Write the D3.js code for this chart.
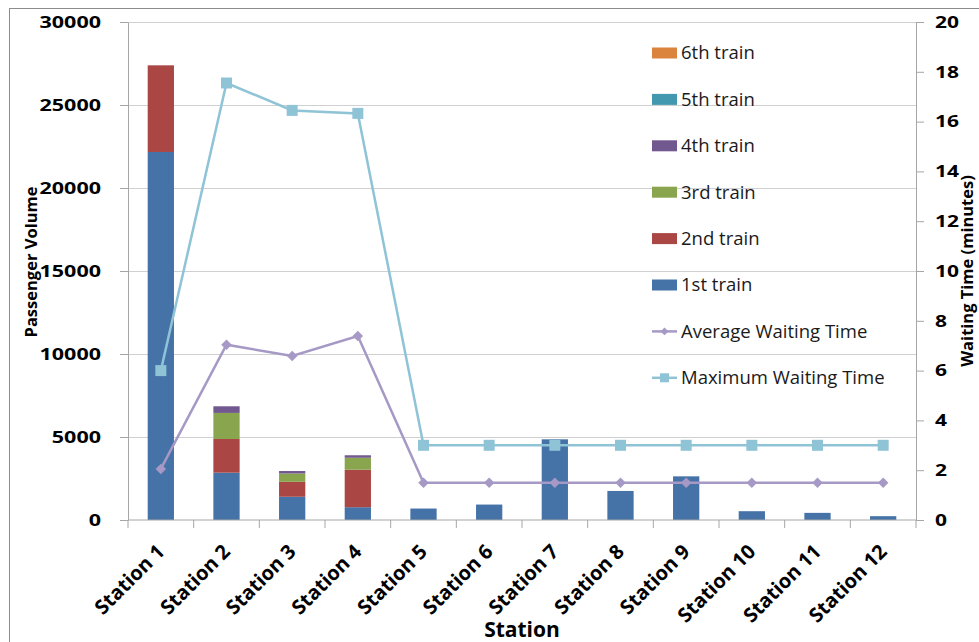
<!DOCTYPE html>
<html>
<head>
<meta charset="utf-8">
<script src="https://cdn.jsdelivr.net/npm/d3@7"></script>
<style>
  html, body { margin: 0; padding: 0; background: #fff; }
  svg { display: block; font-family: 'Open Sans', sans-serif; }
  .grid line { stroke: #d0d0d0; }
  .grid .domain { display: none; }
  .axis path, .axis line { stroke: #a6a6a6; }
  .axis text { font-family: 'Open Sans', sans-serif; font-weight: bold; fill: #000; }
</style>
</head>
<body>
<svg id="chart" width="979" height="642"></svg>
<script>
// Data
const stations = ['Station 1', 'Station 2', 'Station 3', 'Station 4', 'Station 5', 'Station 6',
  'Station 7', 'Station 8', 'Station 9', 'Station 10', 'Station 11', 'Station 12']
const train1 = [22170, 2850, 1400, 770, 690, 930, 4860, 1750, 2630, 530, 430, 230]
const train2 = [5220, 2030, 900, 2260, 0, 0, 0, 0, 0, 0, 0, 0]
const train3 = [0, 1570, 500, 720, 0, 0, 0, 0, 0, 0, 0, 0]
const train4 = [0, 400, 150, 150, 0, 0, 0, 0, 0, 0, 0, 0]
const train5 = [0, 0, 0, 0, 0, 0, 0, 0, 0, 0, 0, 0]
const train6 = [0, 0, 0, 0, 0, 0, 0, 0, 0, 0, 0, 0]
const avgWait = [2.05, 7.04, 6.59, 7.39, 1.5, 1.5, 1.5, 1.5, 1.5, 1.5, 1.5, 1.5]
const maxWait = [6.0, 17.55, 16.45, 16.33, 3, 3, 3, 3, 3, 3, 3, 3]
const volumeTicks = [0, 5000, 10000, 15000, 20000, 25000, 30000]
const waitTicks = [0, 2, 4, 6, 8, 10, 12, 14, 16, 18, 20]

const trainKeys = ['1st train', '2nd train', '3rd train', '4th train', '5th train', '6th train']
const trainColors = ['#4572a7', '#aa4643', '#89a54e', '#71588f', '#4198af', '#db843d']
const avgColor = '#a699c5'
const maxColor = '#8fc3d6'

const svg = d3.select('#chart')
const margin = { top: 22, right: 63, bottom: 122, left: 128 }
const width = 979, height = 642
const innerW = width - margin.left - margin.right
const innerH = height - margin.top - margin.bottom

// outer frame
svg.append('rect')
  .attr('x', 9.5).attr('y', 8.5)
  .attr('width', 1000).attr('height', 700)
  .attr('fill', 'none').attr('stroke', '#8c8c8c')

const rows = stations.map((s, i) => ({
  station: s,
  '1st train': train1[i], '2nd train': train2[i], '3rd train': train3[i],
  '4th train': train4[i], '5th train': train5[i], '6th train': train6[i],
}))
const series = d3.stack().keys(trainKeys)(rows)

const x = d3.scaleBand().domain(stations).range([0, innerW]).paddingInner(0.6).paddingOuter(0.3)
const step = innerW / stations.length
const y = d3.scaleLinear().domain([0, 30000]).range([innerH, 0])
const y2 = d3.scaleLinear().domain([0, 20]).range([innerH, 0])
const cx = (s) => x(s) + x.bandwidth() / 2

const g = svg.append('g').attr('transform', `translate(${margin.left},${margin.top})`)

// grid
g.append('g').attr('class', 'grid')
  .call(d3.axisLeft(y).tickValues(volumeTicks.slice(1)).tickSize(-innerW).tickFormat(''))

// bars
g.selectAll('.series')
  .data(series)
  .join('g')
  .attr('fill', (d, i) => trainColors[i])
  .selectAll('rect')
  .data((d) => d.map((v, i) => ({ v, s: stations[i] })))
  .join('rect')
  .attr('x', (d) => x(d.s))
  .attr('y', (d) => y(d.v[1]))
  .attr('width', x.bandwidth())
  .attr('height', (d) => y(d.v[0]) - y(d.v[1]))

// x axis with ticks at category boundaries
const xAxis = g.append('g').attr('class', 'axis')
  .attr('transform', `translate(0,${innerH})`)
xAxis.append('line').attr('x1', 0).attr('x2', innerW).attr('stroke', '#a6a6a6')
xAxis.selectAll('.tk')
  .data(d3.range(stations.length + 1))
  .join('line')
  .attr('x1', (i) => i * step).attr('x2', (i) => i * step)
  .attr('y1', 0).attr('y2', 8)
xAxis.selectAll('.lbl')
  .data(stations)
  .join('text')
  .attr('transform', (s) => `translate(${cx(s)},${28}) rotate(-45)`)
  .attr('text-anchor', 'end')
  .attr('dy', '0.35em')
  .style('font-size', '20px')
  .text((s) => s)

// left axis
const yAxis = g.append('g').attr('class', 'axis')
  .call(d3.axisLeft(y).tickValues(volumeTicks).tickFormat(d3.format('d'))
    .tickSize(8).tickPadding(19).tickSizeOuter(0))
yAxis.selectAll('text')
  .style('font-size', '16.5px').style('font-weight', 'bold')
  .attr('textLength', (d) => String(d).length * 12.3)
  .attr('lengthAdjust', 'spacingAndGlyphs')

// right axis
const yAxis2 = g.append('g').attr('class', 'axis')
  .attr('transform', `translate(${innerW},0)`)
  .call(d3.axisRight(y2).tickValues(waitTicks).tickSize(8).tickPadding(11).tickSizeOuter(0))
yAxis2.selectAll('text')
  .style('font-size', '16.5px').style('font-weight', 'bold')
  .attr('textLength', (d) => String(d).length * 12)
  .attr('lengthAdjust', 'spacingAndGlyphs')

// lines
const line = (vals) => d3.line().x((d, i) => cx(stations[i])).y((d) => y2(d))(vals)
g.append('path').attr('d', line(maxWait)).attr('fill', 'none')
  .attr('stroke', maxColor).attr('stroke-width', 2.5)
g.append('path').attr('d', line(avgWait)).attr('fill', 'none')
  .attr('stroke', avgColor).attr('stroke-width', 2.5)

g.selectAll('.maxpt')
  .data(maxWait)
  .join('rect')
  .attr('x', (d, i) => cx(stations[i]) - 5.5)
  .attr('y', (d) => y2(d) - 5.5)
  .attr('width', 11).attr('height', 11)
  .attr('fill', maxColor)
g.selectAll('.avgpt')
  .data(avgWait)
  .join('path')
  .attr('d', d3.symbol(d3.symbolDiamond2, 70))
  .attr('transform', (d, i) => `translate(${cx(stations[i])},${y2(d)})`)
  .attr('fill', avgColor)

// axis titles
svg.append('text')
  .attr('transform', 'translate(37,262) rotate(-90)')
  .attr('text-anchor', 'middle')
  .style('font-size', '16.5px').style('font-weight', 'bold')
  .text('Passenger Volume')
svg.append('text')
  .attr('transform', 'translate(973,271) rotate(-90)')
  .attr('text-anchor', 'middle')
  .style('font-size', '16.5px').style('font-weight', 'bold')
  .text('Waiting Time (minutes)')
svg.append('text')
  .attr('x', margin.left + innerW / 2).attr('y', 637)
  .attr('text-anchor', 'middle')
  .style('font-size', '21px').style('font-weight', 'bold')
  .text('Station')

// legend
const legendItems = [
  { name: '6th train', type: 'bar', color: trainColors[5] },
  { name: '5th train', type: 'bar', color: trainColors[4] },
  { name: '4th train', type: 'bar', color: trainColors[3] },
  { name: '3rd train', type: 'bar', color: trainColors[2] },
  { name: '2nd train', type: 'bar', color: trainColors[1] },
  { name: '1st train', type: 'bar', color: trainColors[0] },
  { name: 'Average Waiting Time', type: 'avg', color: avgColor },
  { name: 'Maximum Waiting Time', type: 'max', color: maxColor },
]
const legend = svg.append('g').attr('transform', 'translate(652,53)')
const li = legend.selectAll('g')
  .data(legendItems)
  .join('g')
  .attr('transform', (d, i) => `translate(0,${i * 46.4})`)
li.filter((d) => d.type === 'bar').append('rect')
  .attr('x', 0).attr('y', -5.5).attr('width', 25).attr('height', 11)
  .attr('fill', (d) => d.color)
li.filter((d) => d.type !== 'bar').append('line')
  .attr('x1', 0).attr('x2', 25).attr('stroke', (d) => d.color).attr('stroke-width', 2.5)
li.filter((d) => d.type === 'avg').append('path')
  .attr('d', d3.symbol(d3.symbolDiamond2, 40))
  .attr('transform', 'translate(12.5,0)')
  .attr('fill', (d) => d.color)
li.filter((d) => d.type === 'max').append('rect')
  .attr('x', 8).attr('y', -4.5).attr('width', 9).attr('height', 9)
  .attr('fill', (d) => d.color)
li.append('text')
  .attr('x', 29).attr('dy', '0.35em')
  .style('font-size', '18.5px').attr('fill', '#1a1a1a')
  .text((d) => d.name)
</script>
</body>
</html>
